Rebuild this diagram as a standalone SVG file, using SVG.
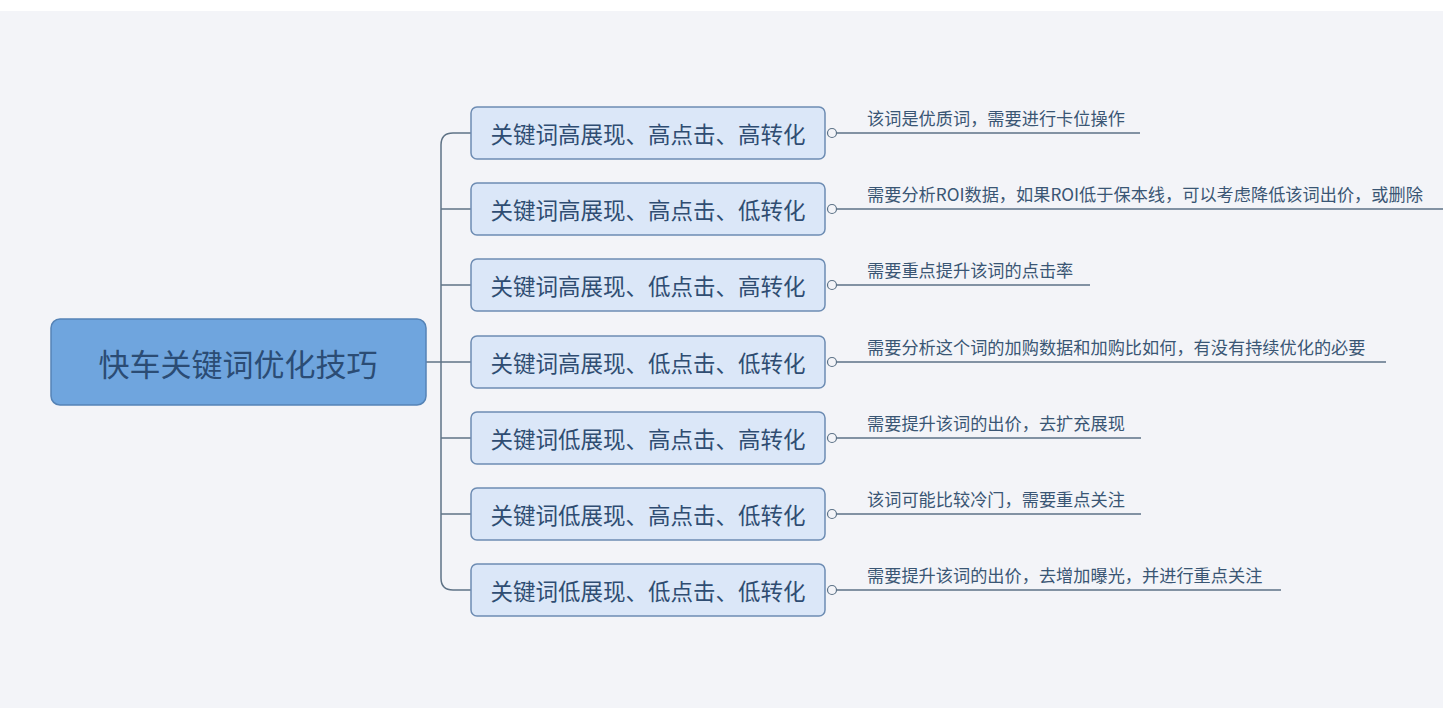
<svg xmlns="http://www.w3.org/2000/svg" width="1443" height="721" viewBox="0 0 1443 721">
<style>
.bg{fill:#f3f4f8}
.root rect{fill:#6fa5de;stroke:#5583b6;stroke-width:1.5}
.root text{font-family:"Noto Sans CJK SC","Liberation Sans",sans-serif;font-size:31px;fill:#2b4c74;text-anchor:middle;dominant-baseline:central}
.child rect{fill:#dbe7f8;stroke:#6d8cb3;stroke-width:1.5}
.child text{font-family:"Noto Sans CJK SC","Liberation Sans",sans-serif;font-size:22.5px;fill:#2f4d72;text-anchor:middle;dominant-baseline:central}
.note text{font-family:"Noto Sans CJK SC","Liberation Sans",sans-serif;font-size:17.2px;fill:#3a5674}
.note line{stroke:#5c7287;stroke-width:1.5}
.note circle{fill:#f3f4f8;stroke:#5c7287;stroke-width:1.2}
.conn path{fill:none;stroke:#5f7386;stroke-width:1.5}
</style>
<rect x="0" y="0" width="1443" height="721" fill="#ffffff"/>
<rect class="bg" x="0" y="11" width="1443" height="697"/>
<g class="conn">
<path d="M426,362 H471"/>
<path d="M471,133 H453 Q441,133 441,145 V578 Q441,590 453,590 H471"/>
<path d="M441,209 H471"/>
<path d="M441,285 H471"/>
<path d="M441,438 H471"/>
<path d="M441,514 H471"/>
</g>
<g id="root" class="root"><rect x="51" y="319" width="375" height="86" rx="9"/><text x="238" y="362">快车关键词优化技巧</text></g>
<g id="c1" class="child"><rect x="471" y="107" width="354" height="52" rx="6"/><text x="648" y="133">关键词高展现、高点击、高转化</text></g>
<g id="c2" class="child"><rect x="471" y="183" width="354" height="52" rx="6"/><text x="648" y="209">关键词高展现、高点击、低转化</text></g>
<g id="c3" class="child"><rect x="471" y="259" width="354" height="52" rx="6"/><text x="648" y="285">关键词高展现、低点击、高转化</text></g>
<g id="c4" class="child"><rect x="471" y="336" width="354" height="52" rx="6"/><text x="648" y="362">关键词高展现、低点击、低转化</text></g>
<g id="c5" class="child"><rect x="471" y="412" width="354" height="52" rx="6"/><text x="648" y="438">关键词低展现、高点击、高转化</text></g>
<g id="c6" class="child"><rect x="471" y="488" width="354" height="52" rx="6"/><text x="648" y="514">关键词低展现、高点击、低转化</text></g>
<g id="c7" class="child"><rect x="471" y="564" width="354" height="52" rx="6"/><text x="648" y="590">关键词低展现、低点击、低转化</text></g>
<g id="n1" class="note"><line x1="837" y1="133" x2="1140" y2="133"/><circle cx="832" cy="133" r="4.5"/><text x="867" y="125">该词是优质词，需要进行卡位操作</text></g>
<g id="n2" class="note"><line x1="837" y1="209" x2="1443" y2="209"/><circle cx="832" cy="209" r="4.5"/><text x="867" y="201">需要分析ROI数据，如果ROI低于保本线，可以考虑降低该词出价，或删除</text></g>
<g id="n3" class="note"><line x1="837" y1="285" x2="1090" y2="285"/><circle cx="832" cy="285" r="4.5"/><text x="867" y="277">需要重点提升该词的点击率</text></g>
<g id="n4" class="note"><line x1="837" y1="362" x2="1386" y2="362"/><circle cx="832" cy="362" r="4.5"/><text x="867" y="354">需要分析这个词的加购数据和加购比如何，有没有持续优化的必要</text></g>
<g id="n5" class="note"><line x1="837" y1="438" x2="1141" y2="438"/><circle cx="832" cy="438" r="4.5"/><text x="867" y="430">需要提升该词的出价，去扩充展现</text></g>
<g id="n6" class="note"><line x1="837" y1="514" x2="1141" y2="514"/><circle cx="832" cy="514" r="4.5"/><text x="867" y="506">该词可能比较冷门，需要重点关注</text></g>
<g id="n7" class="note"><line x1="837" y1="590" x2="1281" y2="590"/><circle cx="832" cy="590" r="4.5"/><text x="867" y="582">需要提升该词的出价，去增加曝光，并进行重点关注</text></g>
</svg>
